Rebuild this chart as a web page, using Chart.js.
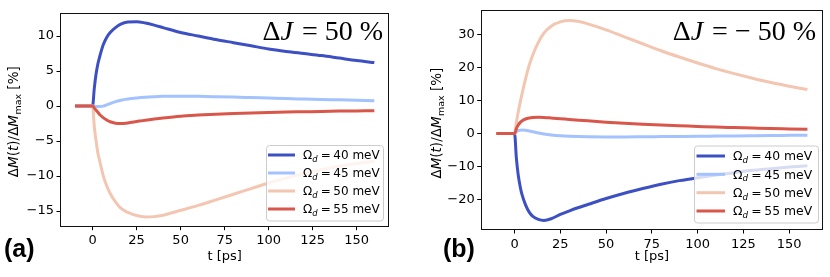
<!DOCTYPE html>
<html><head><meta charset="utf-8">
<script src="https://cdn.jsdelivr.net/npm/chart.js@4.4.1/dist/chart.umd.min.js"></script>
<style>
html,body{margin:0;padding:0;background:#fff;}
#wrap{position:relative;width:830px;height:277px;overflow:hidden;background:#fff;}
#wrap canvas{position:absolute;top:0;}
</style></head><body>
<div id="wrap">
<canvas id="ca" width="415" height="277" style="left:0px"></canvas>
<canvas id="cb" width="415" height="277" style="left:415px"></canvas>
</div>
<script>
// ---------- data ----------
const time = [-10,-5,0,1,2,3,4,6,8,10,13,16,20,25,30,35,40,50,60,70,80,90,100,110,120,130,140,150,160];
const omegaLabels = ['40','45','50','55']; // Ω_d in meV

// panel (a): ΔJ = 50 %
const a40 = [0,0,0,2.6,4.6,6.0,7.0,8.7,9.8,10.5,11.2,11.7,12.0,12.05,11.85,11.55,11.2,10.5,10.0,9.5,9.05,8.6,8.15,7.8,7.5,7.2,6.85,6.5,6.2];
const a45 = [0,0,0,-0.03,-0.06,-0.08,-0.08,-0.02,0.15,0.35,0.62,0.82,1.0,1.15,1.26,1.33,1.38,1.4,1.38,1.33,1.27,1.2,1.13,1.06,1.0,0.94,0.88,0.82,0.76];
const a50 = [0,0,0,-3.0,-5.0,-6.7,-7.8,-9.9,-11.4,-12.5,-13.7,-14.6,-15.2,-15.65,-15.85,-15.8,-15.6,-14.9,-14.2,-13.4,-12.6,-11.8,-11.0,-10.3,-9.7,-9.1,-8.6,-8.2,-7.9];
const a55 = [0,0,0,-0.3,-0.6,-0.9,-1.2,-1.65,-2.0,-2.25,-2.45,-2.5,-2.42,-2.22,-2.02,-1.85,-1.7,-1.45,-1.3,-1.18,-1.08,-1.0,-0.93,-0.87,-0.82,-0.77,-0.73,-0.7,-0.67];

// panel (b): ΔJ = −50 %
const b40 = [0,0,0,-7.5,-12.5,-15.8,-18.3,-21.5,-23.7,-25.0,-25.9,-26.2,-25.7,-24.4,-23.3,-22.3,-21.4,-19.6,-18.0,-16.6,-15.3,-14.2,-13.3,-12.5,-11.8,-11.1,-10.6,-10.1,-9.7];
const b45 = [0,0,0,0.6,0.9,1.0,1.05,1.0,0.8,0.55,0.2,-0.1,-0.4,-0.65,-0.8,-0.9,-0.95,-1.0,-1.0,-0.97,-0.92,-0.87,-0.82,-0.76,-0.7,-0.64,-0.58,-0.53,-0.48];
const b50 = [0,0,0,3.5,6.5,9.2,11.8,16.5,20.6,23.8,27.5,30.3,32.4,33.7,34.1,33.8,33.1,31.3,29.2,27.1,25.0,23.1,21.3,19.6,18.1,16.7,15.4,14.3,13.3];
const b55 = [0,0,0,1.5,2.6,3.3,3.8,4.4,4.7,4.85,4.9,4.85,4.7,4.5,4.25,4.05,3.85,3.45,3.1,2.8,2.55,2.35,2.15,1.95,1.8,1.65,1.5,1.4,1.3];

const xTicks = [0,25,50,75,100,125,150];
const yTicksA = [-15,-10,-5,0,5,10];
const yTicksB = [-20,-10,0,10,20,30];

// ---------- styling ----------
const lineColors = ['#3d50c3','#a3c2fe','#f3c6b1','#d8574a'];
const SANS = "'DejaVu Sans'";
const SERIF = "'Liberation Serif'";

function fmt(v){ return (v<0?'\u2212':'') + Math.abs(v); }

function richWidth(ctx, parts){
  let w = 0;
  for (const p of parts){ ctx.font = p.f; w += (p.pre||0) + ctx.measureText(p.t).width + (p.dx||0); }
  return w;
}
function drawRich(ctx, parts, x, y, align){
  const w = richWidth(ctx, parts);
  let cx = align==='right' ? x - w : align==='center' ? x - w/2 : x;
  for (const p of parts){
    ctx.font = p.f;
    cx += (p.pre||0);
    ctx.fillText(p.t, cx, y + (p.dy||0));
    cx += ctx.measureText(p.t).width + (p.dx||0);
  }
  return w;
}
function legendParts(fs, label){
  const F = fs+'px '+SANS;
  return [
    {t:'\u03A9', f:F},
    {t:'d', f:'italic '+(fs*0.7)+'px '+SANS, dy: fs*0.22, dx: 0.5},
    {t:'=', f:F, pre: fs*0.22, dx: fs*0.22},
    {t:label, f:F},
    {t:' meV', f:F}
  ];
}

function makeChart(canvas, series, yTicks, geo, deco){
  const datasets = series.map((vals,i)=>({
    label: omegaLabels[i],
    data: time.map((t,k)=>({x:t, y:vals[k]})),
    borderColor: lineColors[i],
    backgroundColor: lineColors[i],
    borderWidth: geo.lw,
    pointRadius: 0,
    fill: false,
    cubicInterpolationMode: 'monotone',
    order: series.length - i
  }));
  const decoPlugin = {
    id: 'deco',
    afterDatasetsDraw(chart){
      const {ctx, chartArea:ca} = chart;
      ctx.save();
      ctx.strokeStyle = '#111';
      ctx.lineWidth = 1;
      ctx.strokeRect(Math.round(ca.left)+0.5, Math.round(ca.top)+0.5, Math.round(ca.right-ca.left)-1, Math.round(ca.bottom-ca.top)-1);
      ctx.restore();
    },
    afterDraw(chart){
      const ctx = chart.ctx;
      ctx.save();
      ctx.textBaseline = 'alphabetic';
      // legend
      const L = deco.legend;
      ctx.fillStyle = 'rgba(255,255,255,0.8)';
      ctx.strokeStyle = '#cccccc';
      ctx.lineWidth = 1;
      ctx.beginPath();
      ctx.roundRect(L.x0+0.5, L.y0+0.5, L.x1-L.x0, L.y1-L.y0, 3);
      ctx.fill(); ctx.stroke();
      const fs = L.fs;
      chart.data.datasets.forEach((ds,i)=>{
        const ry = L.rows[i];
        ctx.strokeStyle = ds.borderColor;
        ctx.lineWidth = geo.lw;
        ctx.beginPath(); ctx.moveTo(L.lx0, ry); ctx.lineTo(L.lx1, ry); ctx.stroke();
        ctx.fillStyle = '#000';
        drawRich(ctx, legendParts(fs, ds.label), L.tx, ry + fs*0.36, 'left');
      });
      // ΔJ annotation
      ctx.fillStyle = '#000';
      const S = deco.dj.fs + 'px ' + SERIF;
      drawRich(ctx, [
        {t:'\u0394', f:S},
        {t:'J', f:'italic '+S, dx: 2},
        {t:' = ' + deco.dj.val, f:S},
        {t:' %', f:S}
      ], deco.dj.x, deco.dj.y, 'right');
      // panel letter
      ctx.font = 'bold 25px "Liberation Sans"';
      ctx.fillText(deco.letter.t, deco.letter.x, deco.letter.y);
      // y-axis title (rotated)
      const ca = chart.chartArea;
      const N = geo.yfs+'px '+SANS, I = 'italic '+geo.yfs+'px '+SANS, Sm = (geo.yfs*0.7)+'px '+SANS;
      ctx.translate(deco.ytitle.x, (ca.top+ca.bottom)/2 + deco.ytitle.dy);
      ctx.rotate(-Math.PI/2);
      drawRich(ctx, [
        {t:'\u0394', f:N},{t:'M', f:I},{t:'(', f:N},{t:'t', f:I},{t:')/\u0394', f:N},
        {t:'M', f:I, dx:0.5},{t:'max', f:Sm, dy: geo.yfs*0.25},{t:' [%]', f:N}
      ], 0, 0, 'center');
      ctx.restore();
    }
  };
  return new Chart(canvas, {
    type: 'line',
    data: { datasets },
    options: {
      responsive: false,
      animation: false,
      devicePixelRatio: 1,
      layout: { padding: { top: geo.top, right: geo.right, left: 0, bottom: 0 } },
      plugins: { legend: {display:false}, tooltip: {enabled:false} },
      scales: {
        x: {
          type: 'linear', min: -18.5, max: 168.5,
          afterBuildTicks: s => { s.ticks = xTicks.map(v=>({value:v})); },
          afterFit: s => { s.height = geo.xh; },
          ticks: { font:{family:'DejaVu Sans', size:13}, color:'#000', padding:3, maxRotation:0, autoSkip:false, callback: v => fmt(v) },
          grid: { drawOnChartArea:false, drawTicks:true, tickLength:3.5, color:'#000', lineWidth:1 },
          border: { display:false },
          title: { display:true, text:'t [ps]', color:'#000', font:{family:'DejaVu Sans', size:13}, padding:{top:0, bottom:13} }
        },
        y: {
          type: 'linear', min: geo.ymin, max: geo.ymax,
          afterBuildTicks: s => { s.ticks = yTicks.map(v=>({value:v})); },
          afterFit: s => { s.width = geo.yw; },
          ticks: { font:{family:'DejaVu Sans', size:13}, color:'#000', padding:2.5, autoSkip:false, callback: v => fmt(v) },
          grid: { drawOnChartArea:false, drawTicks:true, tickLength:3.5, color:'#000', lineWidth:1 },
          border: { display:false }
        }
      }
    },
    plugins: [decoPlugin]
  });
}

makeChart(document.getElementById('ca'), [a40,a45,a50,a55], yTicksA,
  { top:12.7, right:25.7, yw:60, xh:50.3, ymin:-17.24, ymax:13.33, lw:3, yfs:13.5 },
  { legend:{x0:266, x1:383, y0:145, y1:220.5, rows:[155,173,191,209], lx0:268, lx1:295, tx:303, fs:12},
    dj:{val:'50', fs:28, x:383, y:40},
    letter:{t:'(a)', x:4, y:257},
    ytitle:{x:18, dy:2} });

makeChart(document.getElementById('cb'), [b40,b45,b50,b55], yTicksB,
  { top:6.7, right:7, yw:65.7, xh:47, ymin:-29.1, ymax:37.2, lw:3, yfs:13.5 },
  { legend:{x0:279, x1:403, y0:145.5, y1:222.5, rows:[156,174.3,192.7,211], lx0:281.5, lx1:310, tx:318, fs:12.4},
    dj:{val:'\u2212 50', fs:28, x:401, y:40},
    letter:{t:'(b)', x:28, y:257},
    ytitle:{x:26, dy:3} });
</script>
</body></html>
